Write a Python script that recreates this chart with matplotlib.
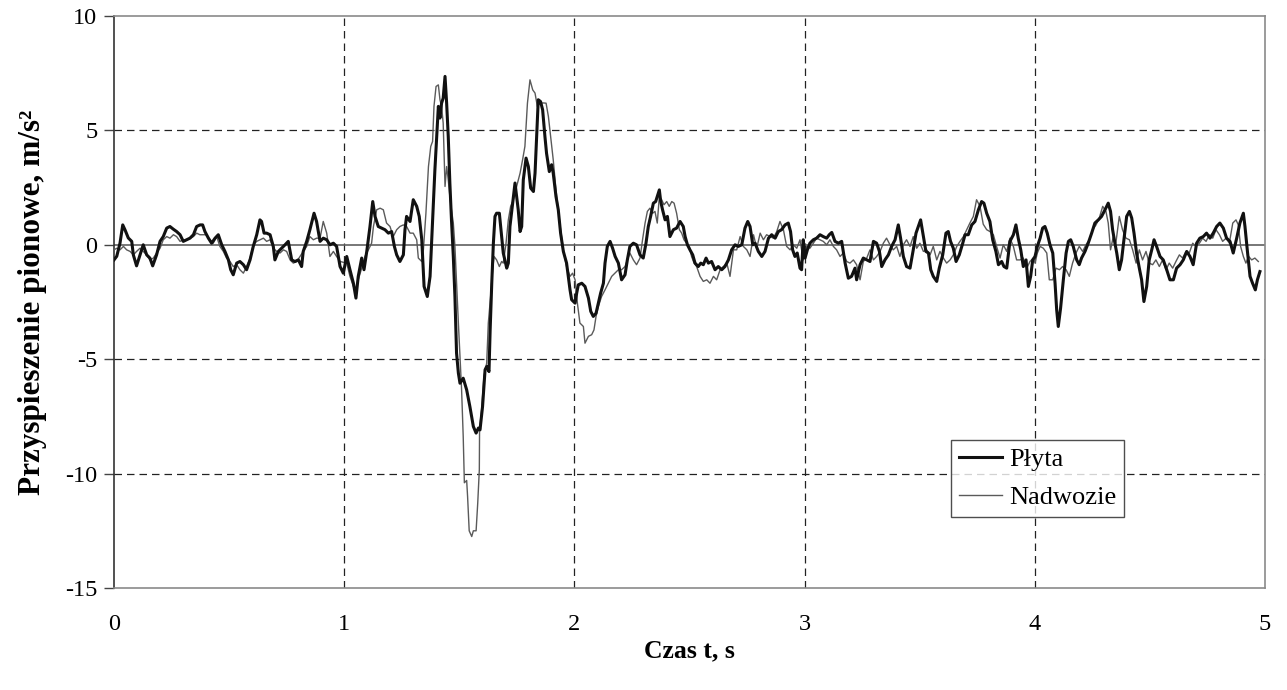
import numpy as np
import matplotlib
matplotlib.use("Agg")
import matplotlib.pyplot as plt

# ---------------- data ----------------
x_ticks = [0, 1, 2, 3, 4, 5]
y_ticks = [-15, -10, -5, 0, 5, 10]
series_names = ["Płyta", "Nadwozie"]

# Płyta (thick line)
plyta_t1 = [0.000,0.012,0.026,0.038,0.048,0.062,0.077,0.084,0.098,0.113,
            0.127,0.142,0.156,0.168,0.185,0.200,0.214,0.229,0.243,0.258,
            0.272,0.287,0.301,0.316,0.330,0.345,0.359,0.374,0.385,0.395,
            0.410,0.424,0.439,0.453,0.468,0.482,0.497,0.507,0.518,0.533,
            0.547,0.562,0.576,0.591,0.605,0.620,0.634,0.641,0.652,0.663,
            0.678,0.692,0.699,0.714,0.728,0.743,0.757,0.772,0.786,0.801,
            0.815,0.822,0.837,0.851,0.869,0.880,0.895,0.909,0.924,0.938,
            0.953,0.967]
plyta_v1 = [-0.66,-0.50,0.07,0.87,0.65,0.30,0.15,-0.44,-0.92,-0.44,
            0.00,-0.44,-0.58,-0.92,-0.44,0.15,0.36,0.73,0.80,0.68,
            0.58,0.44,0.15,0.22,0.29,0.44,0.80,0.87,0.87,0.58,
            0.29,0.07,0.29,0.44,0.00,-0.29,-0.66,-1.09,-1.31,-0.80,
            -0.73,-0.87,-1.09,-0.66,-0.07,0.44,1.09,1.02,0.51,0.51,
            0.44,-0.07,-0.66,-0.29,-0.15,0.00,0.15,-0.66,-0.73,-0.66,
            -0.95,-0.29,0.15,0.66,1.38,1.02,0.15,0.29,0.22,0.00,
            0.07,-0.07]
plyta_t2 = [0.982,0.996,1.011,1.025,1.040,1.051,1.061,1.076,1.086,1.098,
            1.112,1.124,1.134,1.148,1.163,1.177,1.192,1.206,1.218,1.228,
            1.242,1.257,1.264,1.271,1.286,1.300,1.315,1.326,1.337,1.347,
            1.361,1.373,1.384,1.394,1.402,1.409,1.416,1.423,1.430,1.438,
            1.445,1.452,1.459,1.466,1.474,1.481,1.488,1.496,1.503,1.517,
            1.532,1.546,1.561,1.573,1.583,1.590,1.601,1.612,1.619,1.629,
            1.634,1.641,1.648,1.655,1.662,1.674,1.684,1.691,1.706,1.713,
            1.720,1.732,1.742,1.749,1.756,1.764,1.771,1.778,1.790,1.800,
            1.810,1.822,1.829,1.836,1.843,1.853,1.862,1.872,1.879,1.891,
            1.901,1.908,1.920,1.930,1.940,1.952,1.966]
plyta_v2 = [-0.95,-1.24,-0.51,-1.09,-1.68,-2.33,-1.38,-0.58,-1.09,-0.29,
            0.80,1.89,1.24,0.80,0.73,0.66,0.51,0.58,-0.07,-0.44,
            -0.73,-0.44,0.66,1.24,1.02,1.97,1.68,1.24,0.22,-1.82,
            -2.26,-1.38,1.09,3.28,4.73,6.05,5.54,6.19,6.41,7.36,
            6.19,4.73,2.70,1.09,-0.51,-2.26,-4.73,-5.61,-6.05,-5.83,
            -6.34,-7.07,-7.94,-8.23,-8.01,-8.09,-7.07,-5.46,-5.32,-5.54,
            -3.72,-1.68,0.07,1.24,1.38,1.38,0.36,-0.36,-1.02,-0.80,
            0.80,1.82,2.70,2.11,1.53,0.58,0.80,2.84,3.79,3.42,
            2.48,2.33,3.13,4.73,6.34,6.26,5.90,4.73,4.00,3.20,
            3.50,3.13,2.11,1.53,0.51,-0.29,-0.80]
plyta_t3 = [1.981,1.988,2.003,2.010,2.017,2.032,2.046,2.061,2.071,2.082,
            2.094,2.104,2.114,2.126,2.133,2.143,2.155,2.166,2.177,2.191,
            2.205,2.220,2.230,2.241,2.256,2.270,2.285,2.299,2.311,2.321,
            2.331,2.343,2.353,2.360,2.369,2.375,2.383,2.394,2.404,2.415,
            2.430,2.444,2.459,2.473,2.481,2.491,2.502,2.514,2.524,2.538,
            2.549,2.560,2.572,2.582,2.596,2.611,2.625,2.640,2.654,2.669,
            2.683,2.698,2.712,2.727,2.741,2.753,2.763,2.775,2.785,2.799,
            2.814,2.828,2.843,2.857,2.872,2.886,2.900,2.915,2.929,2.939,
            2.948,2.958,2.968,2.980,2.987]
plyta_v3 = [-1.97,-2.40,-2.55,-2.11,-1.75,-1.68,-1.82,-2.33,-2.91,-3.13,
            -2.99,-2.55,-2.11,-1.68,-0.80,-0.07,0.15,-0.15,-0.51,-0.80,
            -1.53,-1.31,-0.66,-0.07,0.07,0.00,-0.44,-0.58,0.07,0.80,
            1.24,1.82,1.89,2.11,2.40,1.89,1.53,1.09,1.24,0.36,
            0.66,0.73,1.02,0.80,0.36,0.00,-0.22,-0.44,-0.80,-0.95,
            -0.80,-0.87,-0.58,-0.80,-0.73,-1.09,-0.95,-1.09,-0.95,-0.66,
            -0.22,0.00,-0.07,0.00,0.73,1.02,0.80,0.00,0.07,-0.29,
            -0.51,-0.29,0.29,0.44,0.29,0.58,0.66,0.87,0.95,0.58,
            -0.22,-0.51,-0.36,-1.02,-1.09]
plyta_t4 = [2.994,3.002,3.012,3.023,3.038,3.052,3.067,3.081,3.096,3.107,
            3.118,3.132,3.147,3.161,3.176,3.190,3.204,3.219,3.226,3.241,
            3.255,3.270,3.284,3.299,3.313,3.325,3.335,3.349,3.364,3.378,
            3.393,3.407,3.417,3.429,3.443,3.458,3.472,3.484,3.494,3.504,
            3.516,3.527,3.538,3.548,3.559,3.574,3.585,3.600,3.614,3.624,
            3.634,3.646,3.658,3.672,3.687,3.697,3.711,3.726,3.740,3.755,
            3.769,3.779,3.791,3.805,3.817,3.831,3.842,3.856,3.866,3.878,
            3.892,3.907,3.918,3.928,3.939,3.950,3.962,3.972,3.982]
plyta_v4 = [0.22,-0.58,-0.22,0.07,0.22,0.29,0.44,0.36,0.29,0.44,
            0.54,0.15,0.07,0.15,-0.80,-1.46,-1.38,-1.02,-1.53,-0.87,
            -0.58,-0.66,-0.73,0.15,0.07,-0.29,-0.95,-0.66,-0.44,-0.07,
            0.22,0.87,0.29,-0.51,-0.95,-1.02,-0.22,0.51,0.80,1.09,
            0.36,-0.29,-0.36,-1.09,-1.38,-1.60,-1.02,-0.44,0.51,0.58,
            0.15,-0.15,-0.73,-0.44,0.07,0.44,0.44,0.87,1.02,1.53,
            1.89,1.82,1.38,1.02,0.22,-0.29,-0.87,-0.73,-0.95,-1.02,
            0.15,0.44,0.87,0.29,-0.22,-0.95,-0.66,-1.82,-1.38]
plyta_t5 = [3.991,4.001,4.011,4.023,4.034,4.044,4.054,4.066,4.078,4.088,
            4.095,4.102,4.112,4.124,4.136,4.146,4.156,4.167,4.182,4.193,
            4.203,4.218,4.232,4.247,4.261,4.276,4.290,4.305,4.319,4.329,
            4.338,4.348,4.356,4.367,4.377,4.387,4.399,4.411,4.421,4.431,
            4.442,4.454,4.464,4.474,4.486,4.497,4.508,4.518,4.529,4.544,
            4.558,4.573,4.587,4.602,4.616,4.631,4.645,4.660,4.674,4.688,
            4.703,4.717,4.732,4.746,4.761,4.775,4.790,4.804,4.819,4.833,
            4.848,4.862,4.877,4.891,4.906,4.913,4.923,4.935,4.946,4.958,
            4.967,4.978]
plyta_v5 = [-0.66,-0.51,-0.07,0.29,0.73,0.80,0.51,0.00,-0.36,-1.68,
            -2.84,-3.57,-2.77,-1.53,-0.36,0.15,0.22,-0.07,-0.66,-0.87,
            -0.58,-0.29,0.07,0.51,0.95,1.09,1.24,1.53,1.82,1.46,
            0.66,0.07,-0.36,-1.09,-0.66,0.22,1.24,1.46,1.17,0.51,
            -0.36,-1.02,-1.53,-2.48,-1.82,-0.66,-0.22,0.22,-0.07,-0.51,
            -0.66,-1.09,-1.53,-1.53,-1.02,-0.87,-0.66,-0.29,-0.51,-0.87,
            0.07,0.29,0.36,0.51,0.29,0.51,0.80,0.95,0.73,0.29,
            0.15,-0.36,0.29,0.95,1.38,0.80,-0.22,-1.38,-1.68,-1.97,
            -1.53,-1.17]

# Nadwozie (thin line)
nadw_t1 = [0.000,0.012,0.026,0.041,0.055,0.070,0.084,0.098,0.113,0.127,
           0.142,0.156,0.171,0.185,0.200,0.214,0.229,0.243,0.258,0.272,
           0.287,0.301,0.316,0.330,0.345,0.359,0.373,0.388,0.402,0.417,
           0.431,0.446,0.460,0.475,0.489,0.504,0.518,0.533,0.547,0.562,
           0.576,0.591,0.605,0.620,0.634,0.649,0.663,0.678,0.692,0.707,
           0.721,0.736,0.750,0.765,0.779,0.794,0.808,0.822,0.837,0.851,
           0.866,0.880,0.895,0.909,0.924,0.938,0.953,0.967,0.982]
nadw_v1 = [-0.22,-0.15,-0.22,-0.07,-0.22,-0.29,-0.44,-0.29,-0.15,-0.29,
           -0.44,-0.66,-0.58,-0.36,-0.15,0.22,0.36,0.29,0.44,0.36,
           0.15,0.22,0.22,0.29,0.36,0.51,0.44,0.44,0.44,0.22,
           0.07,0.36,-0.07,-0.29,-0.58,-0.73,-0.95,-0.87,-1.09,-1.24,
           -0.95,-0.58,0.00,0.15,0.22,0.29,0.15,0.22,-0.15,-0.29,
           -0.36,-0.22,-0.29,-0.66,-0.80,-0.73,-0.51,-0.29,-0.07,0.36,
           0.22,0.29,0.29,1.02,0.51,-0.51,-0.29,-0.51,-0.73]
nadw_t2 = [1.011,1.025,1.040,1.051,1.061,1.076,1.090,1.105,1.119,1.127,
           1.141,1.156,1.170,1.184,1.199,1.213,1.228,1.242,1.257,1.271,
           1.286,1.300,1.315,1.322,1.337,1.344,1.355,1.366,1.376,1.384,
           1.390,1.399,1.409,1.416,1.423,1.430,1.438,1.445,1.452,1.459,
           1.466,1.474,1.481,1.488,1.496,1.503,1.510,1.517,1.522,1.532,
           1.536,1.543,1.554,1.561,1.573,1.580,1.587,1.588,1.597,1.607,
           1.619,1.626,1.636,1.645,1.651,1.662,1.674,1.684,1.691,1.703,
           1.713,1.723,1.735,1.749,1.764,1.775,1.785,1.796,1.807,1.819,
           1.829,1.839,1.851,1.865,1.877,1.887,1.897,1.908,1.920,1.930,
           1.940,1.952,1.966,1.981]
nadw_v2 = [-0.80,-1.38,-1.82,-1.97,-1.53,-1.02,-0.51,-0.22,0.07,0.80,
           1.53,1.60,1.53,0.95,0.80,0.36,0.66,0.80,0.87,0.80,
           0.51,0.51,0.22,-0.58,-0.73,-0.22,1.38,3.42,4.30,4.52,
           6.05,6.92,6.99,6.34,6.05,5.32,2.55,3.42,2.84,2.11,
           1.53,0.95,-0.07,-1.68,-3.42,-4.88,-6.34,-8.38,-10.40,-10.30,
           -11.00,-12.50,-12.75,-12.50,-12.50,-11.30,-9.83,-8.09,-7.20,-5.75,
           -5.17,-3.42,-2.26,-1.09,-0.51,-0.66,-0.95,-0.73,-0.80,0.07,
           1.09,1.68,1.97,2.55,3.13,3.72,4.30,6.19,7.21,6.77,
           6.63,6.05,6.19,6.20,6.19,5.61,4.73,3.72,2.40,1.53,
           0.66,-0.22,-0.95,-1.38]
nadw_t3 = [1.992,2.003,2.013,2.024,2.039,2.046,2.061,2.075,2.085,2.094,
           2.104,2.118,2.133,2.147,2.162,2.176,2.191,2.205,2.220,2.230,
           2.241,2.256,2.270,2.285,2.297,2.307,2.317,2.328,2.340,2.350,
           2.360,2.369,2.379,2.389,2.401,2.412,2.423,2.433,2.444,2.456,
           2.466,2.476,2.488,2.499,2.509,2.520,2.531,2.546,2.560,2.575,
           2.589,2.604,2.618,2.633,2.647,2.662,2.676,2.691,2.705,2.720,
           2.734,2.749,2.763,2.778,2.792,2.807,2.821,2.835,2.850,2.864,
           2.879,2.893,2.908,2.922,2.937,2.951,2.966,2.980]
nadw_v3 = [-1.24,-1.53,-2.55,-3.42,-3.57,-4.30,-4.00,-3.93,-3.72,-3.13,
           -2.70,-2.26,-1.97,-1.68,-1.38,-1.24,-1.09,-1.09,-0.95,-0.66,
           -0.36,-0.66,-0.87,-0.58,0.29,0.95,1.46,1.60,1.38,1.46,
           0.95,2.11,1.97,1.75,1.89,1.68,1.89,1.82,1.38,0.66,
           0.51,0.22,0.07,-0.07,-0.51,-0.80,-0.95,-1.38,-1.60,-1.53,
           -1.68,-1.38,-1.53,-1.09,-0.95,-0.80,-1.38,-0.22,-0.22,0.36,
           -0.07,-0.22,-0.51,0.44,-0.15,0.51,0.22,0.44,0.36,0.29,
           0.58,1.02,0.66,-0.07,-0.22,0.00,-0.15,0.22]
nadw_t4 = [2.994,3.009,3.023,3.038,3.052,3.067,3.081,3.096,3.110,3.125,
           3.139,3.154,3.168,3.183,3.197,3.212,3.226,3.241,3.255,3.270,
           3.284,3.299,3.313,3.328,3.342,3.356,3.371,3.385,3.400,3.414,
           3.429,3.443,3.458,3.472,3.487,3.501,3.516,3.530,3.545,3.559,
           3.574,3.588,3.603,3.617,3.632,3.646,3.661,3.675,3.690,3.704,
           3.718,3.733,3.747,3.762,3.776,3.791,3.805,3.820,3.834,3.849,
           3.863,3.878,3.892,3.907,3.921,3.936,3.950,3.965,3.979,3.994]
nadw_v4 = [-0.66,-0.07,-0.15,0.07,0.29,0.22,0.15,0.00,0.22,-0.07,
           -0.22,-0.51,-0.36,-0.73,-0.80,-0.66,-0.87,-1.53,-0.73,-0.58,
           -0.22,-0.66,-0.51,-0.29,0.07,0.29,0.00,-0.22,-0.07,-0.51,
           0.00,0.22,-0.07,0.36,-0.15,0.07,-0.29,-0.22,-0.44,-0.07,
           -0.66,-0.29,-0.58,-0.80,-0.66,-0.44,-0.07,0.15,0.36,0.66,
           0.95,1.24,1.97,1.68,0.90,0.66,0.58,0.44,-0.07,-0.58,
           0.00,-0.29,0.29,-0.07,-0.66,-0.66,-0.58,-1.02,-0.73,-0.58]
nadw_t5 = [4.001,4.011,4.023,4.037,4.052,4.063,4.078,4.092,4.107,4.121,
           4.136,4.150,4.164,4.179,4.193,4.208,4.222,4.237,4.251,4.266,
           4.280,4.295,4.309,4.319,4.329,4.341,4.352,4.367,4.381,4.396,
           4.411,4.425,4.440,4.454,4.468,4.483,4.497,4.512,4.526,4.541,
           4.555,4.570,4.584,4.599,4.613,4.628,4.642,4.657,4.671,4.686,
           4.700,4.715,4.729,4.744,4.758,4.773,4.787,4.802,4.816,4.831,
           4.845,4.860,4.874,4.884,4.894,4.906,4.917,4.929,4.942,4.956,
           4.971]
nadw_v5 = [-0.80,-0.36,-0.07,-0.15,-0.36,-1.53,-1.53,-1.02,-1.09,-0.95,
           -1.09,-1.38,-0.80,-0.36,-0.07,-0.29,0.00,0.22,0.66,0.87,
           1.17,1.68,1.46,0.95,-0.22,0.36,0.07,1.24,0.66,0.29,
           0.22,-0.22,-0.80,-0.22,-0.66,-0.29,-0.80,-0.87,-0.66,-0.95,
           -0.66,-1.09,-0.80,-1.02,-0.73,-0.44,-0.58,-0.29,-0.36,0.07,
           -0.07,0.07,0.29,0.15,0.44,0.29,0.66,0.44,0.15,0.29,
           0.07,0.95,1.09,0.87,-0.07,-0.51,-0.80,-0.51,-0.66,-0.58,
           -0.73]

plyta_t = np.concatenate([plyta_t1, plyta_t2, plyta_t3, plyta_t4, plyta_t5])
plyta_v = np.concatenate([plyta_v1, plyta_v2, plyta_v3, plyta_v4, plyta_v5])
nadw_t = np.concatenate([nadw_t1, nadw_t2, nadw_t3, nadw_t4, nadw_t5])
nadw_v = np.concatenate([nadw_v1, nadw_v2, nadw_v3, nadw_v4, nadw_v5])

# ---------------- style ----------------
plt.rcParams['font.family'] = ['Liberation Serif', 'DejaVu Serif']
FS_TICK = 17.5
FS_LEG = 19
FS_XLAB = 18.5
FS_YLAB = 22.5

fig = plt.figure(figsize=(12.87, 6.90), dpi=100)
ax = fig.add_axes([114 / 1287, 1 - 588 / 690, (1265 - 114) / 1287, (588 - 16) / 690])

# grid (dashed) and zero line
for xv in x_ticks[1:-1]:
    ax.axvline(xv, color='#222222', lw=0.9, ls=(0, (6, 4)), zorder=1)
for yv in y_ticks:
    if yv in (y_ticks[0], y_ticks[-1]):
        continue
    if yv == 0:
        ax.axhline(yv, color='#606060', lw=1.2, zorder=1)
    else:
        ax.axhline(yv, color='#222222', lw=0.9, ls=(0, (6, 4)), zorder=1)

ax.plot(nadw_t, nadw_v, color='#5a5a5a', lw=1.0, label=series_names[1], zorder=3)
ax.plot(plyta_t, plyta_v, color='#111111', lw=2.2, label=series_names[0], zorder=4)

ax.set_xlim(0, 5)
ax.set_ylim(-15, 10)
ax.set_xticks(x_ticks)
ax.set_yticks(y_ticks)
ax.set_xticklabels([str(v) for v in x_ticks], fontsize=FS_TICK)
ax.set_yticklabels([str(v) for v in y_ticks], fontsize=FS_TICK)
ax.tick_params(axis='x', length=0, pad=19)
ax.tick_params(axis='y', length=7, width=1, color='#444444', pad=5, direction='out')

for side in ('top', 'right', 'bottom'):
    ax.spines[side].set_color('#8a8a8a')
    ax.spines[side].set_linewidth(1.2)
ax.spines['left'].set_color('#333333')
ax.spines['left'].set_linewidth(1.2)

ax.set_xlabel('Czas t, s', fontsize=FS_XLAB, fontweight='bold', labelpad=3)
ax.set_ylabel('Przyspieszenie pionowe, m/s²', fontsize=FS_YLAB, fontweight='bold', labelpad=13)

handles, labels = ax.get_legend_handles_labels()
order = [labels.index(series_names[0]), labels.index(series_names[1])]
leg = ax.legend([handles[i] for i in order], [labels[i] for i in order],
                loc='lower left', bbox_to_anchor=(0.727, 0.124),
                fontsize=FS_LEG, frameon=True, fancybox=False, handlelength=1.65,
                borderpad=0.3, labelspacing=0.55, handletextpad=0.25,
                borderaxespad=0)
leg.get_frame().set_edgecolor('#222222')
leg.get_frame().set_linewidth(1.0)

fig.savefig('out.png', dpi=100)
